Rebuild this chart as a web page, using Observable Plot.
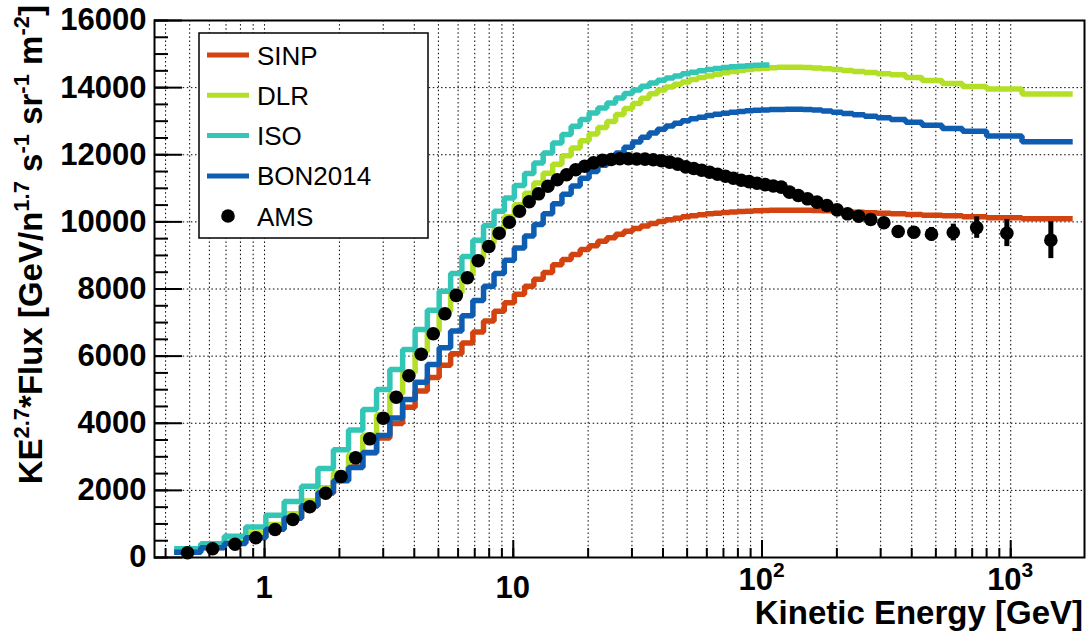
<!DOCTYPE html>
<html><head><meta charset="utf-8">
<script src="https://cdn.jsdelivr.net/npm/d3@7"></script>
<script src="https://cdn.jsdelivr.net/npm/@observablehq/plot@0.6"></script>
<style>
html,body{margin:0;padding:0;background:#fff;}
#chart svg{display:block;}
</style>
</head><body><div id="chart"></div>
<script>
// ---------- data ----------
const binEdges = [0.433, 0.554, 0.689, 0.840, 1.012, 1.199, 1.408, 1.639, 1.892, 2.176,
  2.483, 2.821, 3.190, 3.590, 4.031, 4.513, 5.036, 5.599, 6.214, 6.878,
  7.594, 8.369, 9.205, 10.10, 11.10, 12.10, 13.19, 14.39, 15.69, 17.09,
  18.58, 20.18, 21.88, 23.78, 25.78, 27.88, 30.18, 32.57, 35.17, 37.97,
  40.97, 44.17, 47.57, 51.27, 55.17, 59.37, 63.87, 68.77, 73.97, 79.57,
  85.57, 92.07, 99.07, 107.1, 115.1, 124.1, 134.1, 146.1, 159.1, 174.1,
  191.1, 210.1, 232.1, 258.1, 290.1, 329.1, 378.1, 440.1, 530, 640,
  800, 1110, 1775];

const sinp = [165, 300, 440, 620, 860, 1180, 1540, 1920, 2300, 2700, 3120, 3560,
  3990, 4480, 4960, 5360, 5730, 6070, 6390, 6720, 7050, 7340, 7590, 7840,
  8080, 8290, 8490, 8720, 8880, 9030, 9180, 9290, 9420, 9530, 9630, 9720,
  9800, 9880, 9950, 10010, 10060, 10110, 10150, 10185, 10215, 10240, 10260, 10280,
  10295, 10310, 10320, 10330, 10340, 10345, 10350, 10350, 10350, 10345, 10340, 10330,
  10320, 10305, 10290, 10275, 10260, 10240, 10220, 10200, 10180, 10150, 10120, 10095];

const dlr = [200, 340, 500, 730, 980, 1300, 1680, 2080, 2520, 3060,
  3640, 4250, 4880, 5510, 6140, 6750, 7340, 7890, 8420, 8920,
  9360, 9770, 10150, 10510, 10850, 11160, 11450, 11720, 11970, 12200,
  12420, 12620, 12810, 12990, 13200, 13380,
  13530, 13680, 13820, 13930, 14020, 14100, 14170, 14240, 14300, 14350,
  14400, 14440, 14480, 14510, 14540, 14560, 14580, 14595, 14605, 14610,
  14610, 14600, 14585, 14565, 14540, 14510, 14480, 14450, 14415,
  14380, 14300, 14210, 14120, 14030, 13960, 13810];

const iso = [260, 410, 630, 910, 1260, 1670, 2120, 2650, 3210, 3800,
  4410, 5005, 5600, 6200, 6790, 7365, 7930, 8460, 8970, 9450,
  9890, 10315, 10710, 11085, 11440, 11755, 12050, 12350, 12600, 12850,
  13050, 13245, 13395, 13540, 13690, 13825, 13930, 14040, 14140, 14220,
  14290, 14350, 14410, 14460, 14500, 14540, 14570, 14600, 14620, 14640,
  14655, 14665, 14675];

const bon = [160, 290, 420, 590, 840, 1170, 1540, 1930, 2290, 2680, 3130,
  3635, 4160, 4710, 5220, 5750, 6250, 6750, 7200, 7660, 8080, 8460,
  8860, 9220, 9580, 9920, 10240, 10540, 10820, 11070, 11300, 11500,
  11690, 11870, 12050, 12220, 12380, 12520, 12650, 12760, 12860, 12940,
  13010, 13070, 13120, 13170, 13210, 13240, 13270, 13290, 13310, 13325,
  13335, 13345, 13350, 13355, 13355, 13345, 13330, 13305, 13270, 13230,
  13190, 13145, 13100, 13050, 12970, 12880, 12780, 12700, 12560, 12385];

const amsE = [0.490, 0.618, 0.761, 0.922, 1.102, 1.299, 1.519, 1.761, 2.029, 2.324,
  2.647, 3.000, 3.384, 3.804, 4.265, 4.767, 5.310, 5.899, 6.538, 7.227,
  7.972, 8.777, 9.642, 10.59, 11.59, 12.63, 13.78, 15.03, 16.38, 17.82,
  19.36, 21.01, 22.81, 24.76, 26.81, 29.01, 31.35, 33.85, 36.54, 39.44,
  42.54, 45.84, 49.39, 53.18, 57.23, 61.58, 66.27, 71.32, 76.72, 82.52,
  88.76, 95.51, 103.0, 111.0, 119.5, 129.0, 140.0, 152.5, 166.4, 182.4,
  200.4, 220.8, 244.8, 273.6, 309.0, 352.8, 407.9, 480.3, 587.7, 730,
  965, 1450];

const amsFlux = [140, 259, 396, 587, 834, 1132, 1511, 1916, 2413, 2970,
  3536, 4151, 4776, 5414, 6057, 6665, 7261, 7810, 8334, 8840,
  9266, 9662, 9990, 10318, 10600, 10836, 11063, 11254, 11403, 11552,
  11659, 11760, 11838, 11858, 11879, 11879,
  11875, 11870, 11850, 11820, 11780, 11720, 11640, 11590, 11540, 11480,
  11420, 11360, 11300, 11240, 11200, 11150, 11110, 11070,
  11034, 10885, 10786, 10687, 10587, 10488, 10359, 10240, 10169, 10071, 9972,
  9713, 9692, 9634, 9683, 9830, 9663, 9455];

const amsErr = [10, 15, 20, 25, 30, 35, 40, 45, 50, 55,
  60, 65, 70, 75, 80, 85, 90, 95, 100, 100,
  100, 100, 105, 105, 105, 105, 110, 110, 110, 110,
  110, 110, 110, 110, 110, 110, 110, 110, 110, 110,
  110, 110, 110, 110, 110, 110, 110, 110, 110, 110,
  110, 110, 110, 110, 110, 115, 115, 115, 120, 120,
  125, 130, 135, 140, 145, 150, 170, 200, 250, 320, 400, 550];

const seriesNames = ["SINP", "DLR", "ISO", "BON2014"];
const yTicks = [0, 2000, 4000, 6000, 8000, 10000, 12000, 14000, 16000];
const xTickValues = [1, 10, 100, 1000];
const xTickBase = ["1", "10", "10", "10"];
const xTickExp = ["", "", "2", "3"];

// ---------- styling ----------
const seriesColors = ["#d2430f", "#b3df26", "#33c6b6", "#0e5db0"];
const font = "'Liberation Sans', Arial, Helvetica, sans-serif";
const xDomain = [0.361, 1980];

function steps(values) {
  const pts = values.map((v, i) => ({x: binEdges[i], y: v}));
  pts.push({x: binEdges[values.length], y: values[values.length - 1]});
  return pts;
}
const models = [sinp, dlr, iso, bon];
const decades = [0.1, 1, 10, 100, 1000];
const xGrid = decades.flatMap(d => d3.range(1, 10).map(k => +(k * d).toPrecision(6)))
  .filter(v => v >= xDomain[0] && v <= xDomain[1]);
const yMinor = d3.range(0, 16001, 500);
const ams = amsE.map((e, i) => ({e, f: amsFlux[i], lo: amsFlux[i] - amsErr[i], hi: amsFlux[i] + amsErr[i]}));
const dots = "1.5,2.6";

const plot = Plot.plot({
  width: 1091, height: 641,
  marginLeft: 154, marginRight: 7, marginTop: 20, marginBottom: 84,
  style: {fontFamily: font, background: "white", color: "black", overflow: "visible"},
  x: {type: "log", domain: xDomain, axis: null},
  y: {domain: [0, 16000], axis: null},
  marks: [
    Plot.ruleX(xGrid, {stroke: "black", strokeWidth: 1, strokeDasharray: dots}),
    Plot.ruleY(yTicks, {stroke: "black", strokeWidth: 1, strokeDasharray: dots}),
    ...models.map((vals, i) => Plot.line(steps(vals), {
      x: "x", y: "y", curve: "step-after", stroke: seriesColors[i],
      strokeWidth: 5.5, strokeLinecap: "butt", strokeLinejoin: "miter"
    })),
    Plot.ruleX(ams, {x: "e", y1: "lo", y2: "hi", stroke: "black", strokeWidth: 5}),
    Plot.dot(ams, {x: "e", y: "f", r: 6.8, fill: "black", stroke: null}),
    Plot.axisY(yMinor, {tickSize: 14, dx: 14, tickFormat: () => "", strokeWidth: 2, label: null}),
    Plot.axisY(yTicks, {tickSize: 28, dx: 28, tickFormat: () => "", strokeWidth: 2, label: null}),
    Plot.axisY(yTicks, {tickSize: 0, tickPadding: 8, fontSize: 31, fontWeight: "bold", label: null, tickFormat: d => String(d)}),
    Plot.axisX(xGrid, {tickSize: 9, dy: -9, tickFormat: () => "", strokeWidth: 2, label: null}),
    Plot.axisX(xTickValues, {tickSize: 17, dy: -17, tickFormat: () => "", strokeWidth: 2, label: null}),
    Plot.frame({stroke: "black", strokeWidth: 2})
  ]
});
document.getElementById("chart").appendChild(plot);

// ---------- texts drawn with the plot's scales ----------
const svg = d3.select(plot);
const xs = plot.scale("x");
const g = svg.append("g").attr("font-family", font).attr("fill", "black")
  .attr("text-anchor", "start").style("white-space", "pre");

xTickValues.forEach((v, i) => {
  const t = g.append("text").attr("x", xs.apply(v)).attr("y", xTickExp[i] ? 590 : 598)
    .attr("text-anchor", "middle").attr("font-size", 31).attr("font-weight", "bold");
  t.append("tspan").text(xTickBase[i]);
  if (xTickExp[i]) t.append("tspan").attr("font-size", 21).attr("dy", -13).text(xTickExp[i]);
});

g.append("text").attr("x", 1083).attr("y", 624).attr("text-anchor", "end")
  .attr("font-size", 33).attr("font-weight", "bold").text("Kinetic Energy [GeV]");

const yParts = [["KE", 0], ["2.7", 1], ["*Flux [GeV/n", 0], ["1.7", 1], [" s", 0], ["-1", 1],
  [" sr", 0], ["-1", 1], [" m", 0], ["-2", 1], ["]", 0]];
const yt = g.append("text").attr("transform", "translate(42,5) rotate(-90)")
  .attr("text-anchor", "end").attr("font-size", 33).attr("font-weight", "bold");
let prevSup = 0;
yParts.forEach(([s, sup]) => {
  const ts = yt.append("tspan").text(s);
  if (sup && !prevSup) ts.attr("font-size", 22).attr("dy", -13);
  if (!sup && prevSup) ts.attr("dy", 13);
  prevSup = sup;
});

// legend
const lg = g.append("g").attr("text-anchor", "start");
lg.append("rect").attr("x", 199).attr("y", 33).attr("width", 229).attr("height", 205)
  .attr("fill", "white").attr("stroke", "black").attr("stroke-width", 1.5);
seriesNames.forEach((name, i) => {
  const cy = 55 + i * 40.3;
  lg.append("line").attr("x1", 207).attr("x2", 249).attr("y1", cy).attr("y2", cy)
    .attr("stroke", seriesColors[i]).attr("stroke-width", 5);
  lg.append("text").attr("x", 257).attr("y", cy + 9.5).attr("font-size", 26)
    .attr("text-anchor", "start").text(name);
});
lg.append("circle").attr("cx", 228).attr("cy", 216).attr("r", 6.8).attr("fill", "black");
lg.append("text").attr("x", 257).attr("y", 216 + 9.5).attr("font-size", 26)
  .attr("text-anchor", "start").text("AMS");
</script>
</body></html>
